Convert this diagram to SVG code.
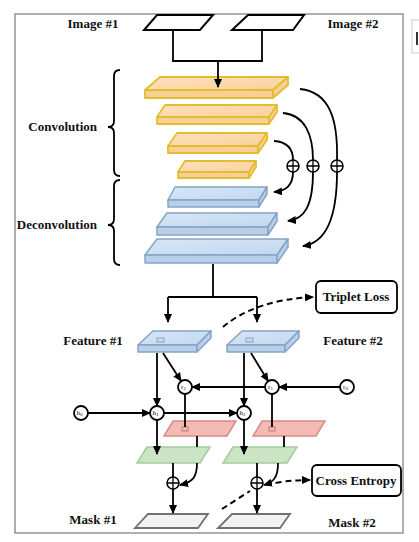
<svg xmlns="http://www.w3.org/2000/svg" width="419" height="542" viewBox="0 0 419 542">
<style>
.lbl{font-family:"Liberation Serif","Times New Roman",serif;font-weight:bold;font-size:13px;fill:#111}
.sm{font-family:"Liberation Serif","Times New Roman",serif;font-size:7px;fill:#111}
.ln{fill:none;stroke:#000;stroke-width:1.8}
.dash{fill:none;stroke:#000;stroke-width:2;stroke-dasharray:6 4}
.img{fill:#fff;stroke:#000;stroke-width:2;stroke-linejoin:miter}
.oT{fill:url(#og);stroke:#e3bd30;stroke-width:1.8;stroke-linejoin:round}
.oF{fill:#f8cf92;stroke:#e3bd30;stroke-width:1.8;stroke-linejoin:round}
.bT{fill:url(#bg);stroke:#86a3c6;stroke-width:1.5;stroke-linejoin:round}
.bF{fill:#b8cfe9;stroke:#86a3c6;stroke-width:1.5;stroke-linejoin:round}
.red{fill:#f4bab5;stroke:#d98a86;stroke-width:1.5}
.grn{fill:#cae4c4;stroke:#a2cc9b;stroke-width:1.5}
.msk{fill:#f2f2f2;stroke:#707070;stroke-width:1.8}
.nd{fill:#fff;stroke:#000;stroke-width:1.8}
.box{fill:#fff;stroke:#000;stroke-width:1.8}
</style>
<defs>
<linearGradient id="og" x1="0" y1="0" x2="1" y2="1"><stop offset="0" stop-color="#fde1bd"/><stop offset="1" stop-color="#fad09c"/></linearGradient>
<linearGradient id="bg" x1="0" y1="0" x2="1" y2="1"><stop offset="0" stop-color="#d6e6f6"/><stop offset="1" stop-color="#c2d8ef"/></linearGradient>
<marker id="ah" markerUnits="userSpaceOnUse" markerWidth="9" markerHeight="8" refX="8" refY="4" orient="auto"><path d="M0,0 L9,4 L0,8 z" fill="#000"/></marker>
</defs>
<rect x="0" y="0" width="419" height="542" fill="#fff"/>
<rect x="15" y="14" width="388" height="519" fill="none" stroke="#7a7a7a" stroke-width="1.2"/>
<rect x="412" y="20" width="20" height="33" fill="none" stroke="#cccccc" stroke-width="1"/>
<rect x="416" y="32" width="2" height="13" fill="#333"/>

<g id="image1"><polygon class="img" points="157,15 213,15 200,30 144,30"/><text class="lbl" x="93" y="28" text-anchor="middle">Image #1</text></g>
<g id="image2"><polygon class="img" points="248,15 304,15 293,30 232,30"/><text class="lbl" x="353" y="28" text-anchor="middle">Image #2</text></g>

<g id="conv1"><polygon class="oT" points="160,77 288,77 273,90 145,90"/><polygon class="oF" points="145,90 273,90 273,98 145,98"/><polygon class="oF" points="273,90 288,77 288,85 273,98"/></g>
<g id="conv2"><polygon class="oT" points="165,105 277,105 269,117 157,117"/><polygon class="oF" points="157,117 269,117 269,124 157,124"/><polygon class="oF" points="269,117 277,105 277,112 269,124"/></g>
<g id="conv3"><polygon class="oT" points="177,133 267,133 258,146 168,146"/><polygon class="oF" points="168,146 258,146 258,153 168,153"/><polygon class="oF" points="258,146 267,133 267,140 258,153"/></g>
<g id="conv4"><polygon class="oT" points="185,161 256,161 249,172 178,172"/><polygon class="oF" points="178,172 249,172 249,178 178,178"/><polygon class="oF" points="249,172 256,161 256,167 249,178"/></g>
<g id="deconv1"><polygon class="bT" points="175,187 267,187 259,200 168,200"/><polygon class="bF" points="168,200 259,200 259,207 168,207"/><polygon class="bF" points="259,200 267,187 267,194 259,207"/></g>
<g id="deconv2"><polygon class="bT" points="167,213 277,213 268,227 157,227"/><polygon class="bF" points="157,227 268,227 268,235 157,235"/><polygon class="bF" points="268,227 277,213 277,221 268,235"/></g>
<g id="deconv3"><polygon class="bT" points="157,239 288,239 277,255 145,255"/><polygon class="bF" points="145,255 277,255 277,263 145,263"/><polygon class="bF" points="277,255 288,239 288,247 277,263"/></g>

<g id="convLabel"><path class="ln" d="M120,70 Q114,70 114,76 L114,121 Q114,127 108,127 Q114,127 114,133 L114,170 Q114,176 120,176"/><text class="lbl" x="97" y="131" text-anchor="end">Convolution</text></g>
<g id="deconvLabel"><path class="ln" d="M120,180 Q114,180 114,186 L114,219 Q114,225 108,225 Q114,225 114,231 L114,259 Q114,265 120,265"/><text class="lbl" x="97" y="229" text-anchor="end">Deconvolution</text></g>

<g id="feature1"><polygon class="bT" points="153,331 211,331 197,345 138,345"/><polygon class="bF" points="138,345 197,345 197,352 138,352"/><polygon class="bF" points="197,345 211,331 211,338 197,352"/><rect x="157" y="338" width="7" height="4" fill="#c8dcf0" stroke="#86a3c6" stroke-width="1"/><text class="lbl" x="93" y="345" text-anchor="middle">Feature #1</text></g>
<g id="feature2"><polygon class="bT" points="242,331 299,331 285,345 227,345"/><polygon class="bF" points="227,345 285,345 285,352 227,352"/><polygon class="bF" points="285,345 299,331 299,338 285,352"/><rect x="246" y="338" width="7" height="4" fill="#c8dcf0" stroke="#86a3c6" stroke-width="1"/><text class="lbl" x="353" y="345" text-anchor="middle">Feature #2</text></g>

<g id="tripletLoss"><rect class="box" x="316" y="281" width="81" height="32" rx="5"/><text class="lbl" x="356" y="301" text-anchor="middle">Triplet Loss</text></g>
<g id="crossEntropy"><rect class="box" x="312" y="465" width="89" height="31" rx="5"/><text class="lbl" x="356" y="485" text-anchor="middle" font-size="12.5">Cross Entropy</text></g>

<g id="red1"><polygon class="red" points="173,421 236,421 227,436 164,436"/><rect x="182" y="427" width="6" height="4" fill="#f4bab5" stroke="#c27a76" stroke-width="1"/></g>
<g id="red2"><polygon class="red" points="262,421 325,421 316,436 253,436"/><rect x="269" y="427" width="6" height="4" fill="#f4bab5" stroke="#c27a76" stroke-width="1"/></g>
<g id="green1"><polygon class="grn" points="147,447 210,447 200,463 137,463"/></g>
<g id="green2"><polygon class="grn" points="233,447 297,447 287,463 223,463"/></g>
<g id="mask1"><polygon class="msk" points="148,514 208,514 198,528 135,528"/><text class="lbl" x="93" y="524" text-anchor="middle">Mask #1</text></g>
<g id="mask2"><polygon class="msk" points="232,514 290,514 280,528 218,528"/><text class="lbl" x="352" y="527" text-anchor="middle">Mask #2</text></g>

<g id="r2"><circle class="nd" cx="185" cy="387" r="7"/><text class="sm" x="183.5" y="389" text-anchor="middle">r<tspan font-size="5" dy="1">2</tspan></text></g>
<g id="r1"><circle class="nd" cx="272" cy="387" r="7"/><text class="sm" x="270.5" y="389" text-anchor="middle">r<tspan font-size="5" dy="1">1</tspan></text></g>
<g id="r0"><circle class="nd" cx="347" cy="387" r="7"/><text class="sm" x="345.5" y="389" text-anchor="middle">r<tspan font-size="5" dy="1">0</tspan></text></g>
<g id="h0"><circle class="nd" cx="81" cy="413" r="7"/><text class="sm" x="79.5" y="415" text-anchor="middle">h<tspan font-size="5" dy="1">0</tspan></text></g>
<g id="h1"><circle class="nd" cx="157" cy="413" r="7"/><text class="sm" x="155.5" y="415" text-anchor="middle">h<tspan font-size="5" dy="1">1</tspan></text></g>
<g id="h2"><circle class="nd" cx="244" cy="413" r="7"/><text class="sm" x="242.5" y="415" text-anchor="middle">h<tspan font-size="5" dy="1">2</tspan></text></g>

<g id="connectors">
<path class="ln" d="M173,31 V61 H262 V31"/>
<path class="ln" d="M218,61 V87" marker-end="url(#ah)"/>
<path class="ln" d="M300,89 C330,92 338,120 337,160"/>
<path class="ln" d="M337,172 C337,220 325,243 303,246" marker-end="url(#ah)"/>
<path class="ln" d="M283,113 C305,115 313,135 313,160"/>
<path class="ln" d="M313,172 C313,205 305,219 288,221" marker-end="url(#ah)"/>
<path class="ln" d="M274,141 C288,142 293,150 293,160"/>
<path class="ln" d="M293,172 C293,183 288,191 274,192" marker-end="url(#ah)"/>
<g fill="#fff" stroke="#000" stroke-width="1.5">
<circle cx="337" cy="166" r="6"/><circle cx="313" cy="166" r="6"/><circle cx="293" cy="166" r="6"/>
</g>
<path stroke="#000" stroke-width="1.3" d="M331,166 H343 M337,160 V172 M307,166 H319 M313,160 V172 M287,166 H299 M293,160 V172"/>
<path class="ln" d="M213,264 V297"/>
<path class="ln" d="M168,297 H257"/>
<path class="ln" d="M168,297 V322" marker-end="url(#ah)"/>
<path class="ln" d="M257,297 V322" marker-end="url(#ah)"/>
<path class="dash" d="M223,327 Q255,300 313,297" marker-end="url(#ah)"/>
<path class="ln" d="M157,353 V406" marker-end="url(#ah)"/>
<path class="ln" d="M163,353 L181,381" marker-end="url(#ah)"/>
<path class="ln" d="M244,353 V406" marker-end="url(#ah)"/>
<path class="ln" d="M251,353 L268,381" marker-end="url(#ah)"/>
<path class="ln" d="M340,387 H279" marker-end="url(#ah)"/>
<path class="ln" d="M265,387 H192" marker-end="url(#ah)"/>
<path class="ln" d="M88,413 H150" marker-end="url(#ah)"/>
<path class="ln" d="M164,413 H237" marker-end="url(#ah)"/>
<path class="ln" d="M185,394 V427"/>
<path class="ln" d="M272,394 V427"/>
<path class="ln" d="M157,420 V454" marker-end="url(#ah)"/>
<path class="ln" d="M244,420 V454" marker-end="url(#ah)"/>
<path class="ln" d="M197,436 V447"/>
<path class="ln" d="M284,436 V447"/>
<path class="ln" d="M173,463 V477"/>
<path class="ln" d="M173,489 V513" marker-end="url(#ah)"/>
<path class="ln" d="M197,463 C197,477 193,482 180,485" marker-end="url(#ah)"/>
<path class="ln" d="M257,463 V477"/>
<path class="ln" d="M257,489 V513" marker-end="url(#ah)"/>
<path class="ln" d="M278,463 C278,477 274,482 264,485" marker-end="url(#ah)"/>
<g fill="#fff" stroke="#000" stroke-width="1.5"><circle cx="173" cy="483" r="6"/><circle cx="257" cy="483" r="6"/></g>
<path stroke="#000" stroke-width="1.3" d="M167,483 H179 M173,477 V489 M251,483 H263 M257,477 V489"/>
<path class="dash" d="M222,509 L250,491"/>
<path class="dash" d="M266,485 Q285,480 310,480" marker-end="url(#ah)"/>
</g>
</svg>
